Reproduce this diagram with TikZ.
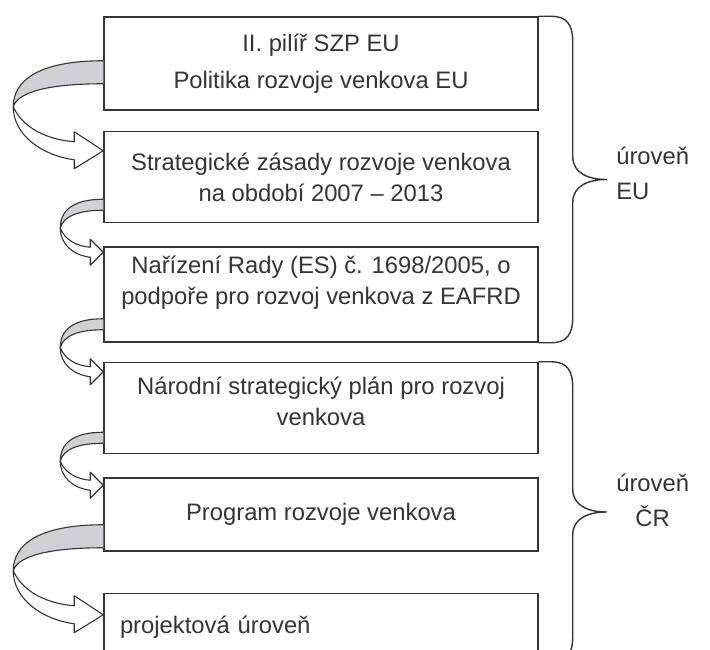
\documentclass[tikz,border=0pt]{standalone}
\usepackage{fontspec}
\setmainfont{Liberation Sans}
\usetikzlibrary{positioning,calc}

\definecolor{ink}{RGB}{55,50,55}
\definecolor{ribbongray}{RGB}{208,208,214}

\tikzset{
  stagebox/.style={draw=ink, line width=1.5pt, minimum width=434pt, inner sep=0pt,
    align=center, text=ink, font=\fontsize{23.8}{31}\selectfont},
  curly/.style={draw=ink, line width=1.4pt, line cap=round},
  ribbon/.style={draw=ink, line width=1.1pt, line join=round},
  bigloop/.pic={
    \filldraw[ribbon, fill=white] (-90,-44) .. controls (-80,-22) and (-55,-11) .. (-29,-9)
      -- (-29,-19) -- (0,0) -- (-29,18) -- (-29,9) .. controls (-60,5) and (-90,-15) .. (-90,-44) -- cycle;
    \filldraw[ribbon, fill=ribbongray] (0,-90) .. controls (-65,-90) and (-90,-70) .. (-90,-44)
      .. controls (-85,-60) and (-50,-67) .. (0,-67);
  },
  smallloop/.pic={
    \filldraw[ribbon, fill=white] (-43,-24) .. controls (-38,-12) and (-26,-6) .. (-13,-5)
      -- (-13,-13) -- (0,0) -- (-13,13) -- (-13,5) .. controls (-30,3) and (-43,-8) .. (-43,-24) -- cycle;
    \filldraw[ribbon, fill=ribbongray] (0,-53) .. controls (-30,-53) and (-43,-42) .. (-43,-24)
      .. controls (-40,-36) and (-25,-42) .. (0,-42);
  },
}

\begin{document}
\begin{tikzpicture}[x=1pt, y=-1pt]
    \clip (0,0) rectangle (710,650);
    \fill[white] (0,0) rectangle (710,650);

    \node[stagebox, minimum height=93pt, font=\fontsize{23.8}{37}\selectfont] (b1) at (321,63.5) {II. pilíř SZP EU\\Politika rozvoje venkova EU};
    \node[stagebox, minimum height=91pt, below=20pt of b1] (b2) {Strategické zásady rozvoje venkova\\na období 2007 – 2013};
    \node[stagebox, minimum height=95pt, text depth=28pt, below=23pt of b2] (b3) {Nařízení Rady (ES) č. 1698/2005, o\\podpoře pro rozvoj venkova z EAFRD};
    \node[stagebox, minimum height=91pt, text depth=14pt, below=19pt of b3] (b4) {Národní strategický plán pro rozvoj\\venkova};
    \node[stagebox, minimum height=73pt, below=23pt of b4] (b5) {Program rozvoje venkova};
    \node[stagebox, minimum height=68pt, text width=402pt, inner xsep=16pt, align=left, below=41pt of b5] (b6) {projektová úroveň};

    \pic at ($(b2.north west)+(0,20)$) {bigloop};
    \pic at ($(b3.north west)+(0,6)$) {smallloop};
    \pic at ($(b4.north west)+(0,10)$) {smallloop};
    \pic at ($(b5.north west)+(0,8)$) {smallloop};
    \pic at ($(b6.north west)+(0,22)$) {bigloop};

    \coordinate (eutip) at ($(b1.north east)!0.5!(b3.south east)+(68,0)$);
    \coordinate (crtip) at ($(b4.north east)!0.5!(b6.south east)+(68,0)$);

    \draw[curly] (b1.north east) -- ++(12,0) .. controls +(16,0) and +(0,-18) .. ++(22,26)
      -- ($(eutip)+(-34,-23)$) .. controls +(0,17) and +(-18,0) .. (eutip)
      .. controls +(-18,0) and +(0,-17) .. ++(-34,23)
      -- ($(b3.south east)+(34,-26)$) .. controls +(0,18) and +(16,0) .. ++(-22,26) -- (b3.south east);
    \draw[curly] (b4.north east) -- ++(12,0) .. controls +(16,0) and +(0,-18) .. ++(22,26)
      -- ($(crtip)+(-34,-23)$) .. controls +(0,17) and +(-18,0) .. (crtip)
      .. controls +(-18,0) and +(0,-17) .. ++(-34,23)
      -- ($(b6.south east)+(34,-26)$) .. controls +(0,18) and +(16,0) .. ++(-22,26) -- (b6.south east);

    \node[right=6pt of eutip, yshift=6pt, align=left, text=ink, font=\fontsize{23.8}{35}\selectfont] (eu) {úroveň\\EU};
    \node[right=6pt of crtip, yshift=12pt, align=center, text=ink, font=\fontsize{23.8}{35}\selectfont] (cr) {úroveň\\ČR};
\end{tikzpicture}
\end{document}
